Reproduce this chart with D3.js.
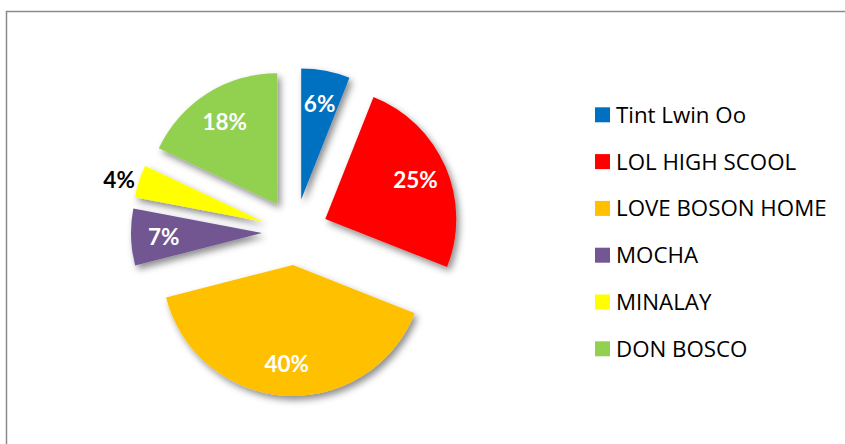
<!DOCTYPE html>
<html>
<head>
<meta charset="utf-8">
<script src="https://cdn.jsdelivr.net/npm/d3@7"></script>
<style>
    html, body { margin: 0; padding: 0; background: #fff; }
    svg { display: block; }
</style>
</head>
<body>
<div id="chart"></div>
<script>
/* global d3 */

let categories = ['Tint Lwin Oo', 'LOL HIGH SCOOL', 'LOVE BOSON HOME', 'MOCHA', 'MINALAY', 'DON BOSCO']
let values = [6, 25, 40, 7, 4, 18]
let colors = ['#0070c0', '#ff0000', '#ffc000', '#725792', '#ffff00', '#92d050']

let DrawPie = function (id) {
    this.svgWidth = 845
    this.svgHeight = 444
    this.center = { x: 295, y: 232 }
    this.radius = 131
    this.explode = 33

    this.svg = d3.select(id).append('svg')
        .attr('width', this.svgWidth)
        .attr('height', this.svgHeight)

    let filter = this.svg.append('defs').append('filter')
        .attr('id', 'shadow')
        .attr('x', '-30%').attr('y', '-30%')
        .attr('width', '160%').attr('height', '160%')
    filter.append('feDropShadow')
        .attr('dx', 3)
        .attr('dy', 4)
        .attr('stdDeviation', 3.5)
        .attr('flood-color', '#000')
        .attr('flood-opacity', 0.45)

    // chart frame, runs off the right and bottom edges
    this.svg.append('rect')
        .attr('x', 6.5)
        .attr('y', 11.5)
        .attr('width', 900)
        .attr('height', 500)
        .attr('fill', 'none')
        .attr('stroke', '#8a8a8a')
        .attr('stroke-width', 1.5)

    this.graphContainer = this.svg.append('g')
        .attr('class', 'g_main')
        .attr('transform', 'translate(' + this.center.x + ', ' + this.center.y + ')')
}

DrawPie.prototype.pie = function () {
    let self = this
    let total = d3.sum(values)
    let data = values.map(function (v, i) {
        return { name: categories[i], value: v, color: colors[i] }
    })

    let pie = d3.pie()
        .sort(null)
        .value(function (d) { return d.value })

    let arc = d3.arc()
        .innerRadius(0)
        .outerRadius(this.radius)

    let shift = function (d, dist) {
        let mid = (d.startAngle + d.endAngle) / 2
        return [Math.sin(mid) * dist, -Math.cos(mid) * dist]
    }

    let slices = this.graphContainer.selectAll('.slice')
        .data(pie(data))
        .enter().append('g')
        .attr('class', 'slice')
        .attr('transform', function (d) {
            let s = shift(d, self.explode)
            return 'translate(' + s[0] + ',' + s[1] + ')'
        })

    slices.append('path')
        .attr('d', arc)
        .attr('fill', function (d) { return d.data.color })
        .attr('filter', 'url(#shadow)')

    // small slices get their label outside, in black
    slices.append('text')
        .attr('transform', function (d) {
            let outside = d.data.value / total < 0.05
            let s = shift(d, outside ? self.radius * 1.16 : self.radius * 0.75)
            return 'translate(' + s[0] + ',' + s[1] + ')'
        })
        .attr('text-anchor', 'middle')
        .attr('dy', function (d) { return d.data.value / total < 0.05 ? '0.6em' : '0.38em' })
        .attr('font-family', 'Lato, sans-serif')
        .attr('font-weight', 'bold')
        .attr('font-size', '22.5px')
        .attr('fill', function (d) { return d.data.value / total < 0.05 ? '#000' : '#fff' })
        .text(function (d) { return Math.round(d.data.value / total * 100) + '%' })
}

DrawPie.prototype.legend = function () {
    let yScale = d3.scalePoint()
        .domain(categories)
        .range([114.8, 348.8])

    let items = this.svg.append('g')
        .attr('class', 'legend')
        .selectAll('g')
        .data(categories)
        .enter().append('g')
        .attr('transform', function (d) { return 'translate(595,' + yScale(d) + ')' })

    items.append('rect')
        .attr('x', 0)
        .attr('y', -7.5)
        .attr('width', 15)
        .attr('height', 15)
        .attr('fill', function (d, i) { return colors[i] })

    items.append('text')
        .attr('x', 21)
        .attr('dy', '0.36em')
        .attr('font-family', '"Open Sans", sans-serif')
        .attr('font-size', '22.3px')
        .attr('fill', '#000')
        .text(function (d) { return d })
}

let chart = new DrawPie('#chart')
chart.pie()
chart.legend()
</script>
</body>
</html>
